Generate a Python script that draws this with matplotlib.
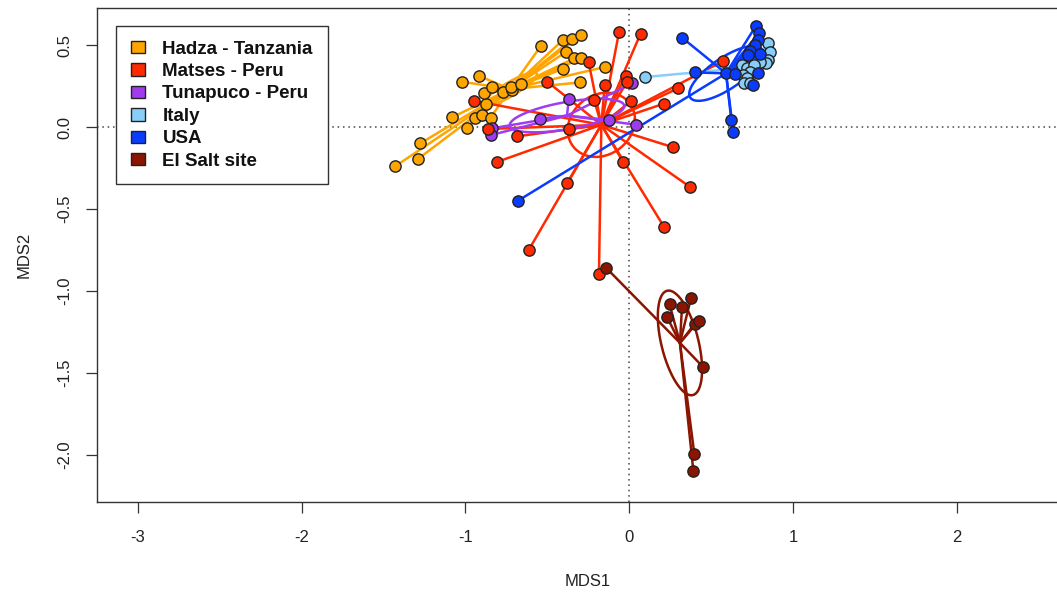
import numpy as np
import matplotlib
matplotlib.use("Agg")
import matplotlib.pyplot as plt
from matplotlib.patches import Patch

plt.rcParams['font.family'] = ['Liberation Sans', 'DejaVu Sans']

groups = ["Hadza - Tanzania", "Matses - Peru", "Tunapuco - Peru", "Italy", "USA", "El Salt site"]
colors = ["#FFA500", "#FF2A00", "#A03CF0", "#87CEFA", "#0A3CFF", "#8B1500"]

hadza_x = [-1.43, -1.29, -1.276, -1.08, -0.99, -0.944, -0.90, -0.847, -0.877, -0.889, -0.838,
           -0.771, -0.716, -0.72, -0.661, -1.02, -0.92, -0.54, -0.407, -0.35, -0.293, -0.385,
           -0.336, -0.293, -0.407, -0.15, -0.30]
hadza_y = [-0.24, -0.195, -0.10, 0.06, -0.004, 0.055, 0.075, 0.057, 0.14, 0.205, 0.242,
           0.211, 0.226, 0.246, 0.262, 0.276, 0.313, 0.494, 0.529, 0.535, 0.561, 0.459,
           0.419, 0.419, 0.354, 0.366, 0.272]

matses_x = [-0.063, 0.069, -0.248, -0.50, -0.022, -0.014, -0.15, -0.215, 0.012, -0.95, 0.297,
            0.21, -0.865, -0.686, -0.368, -0.808, -0.039, 0.27, -0.38, 0.214, 0.372, -0.615,
            -0.185, 0.572]
matses_y = [0.577, 0.569, 0.394, 0.276, 0.311, 0.276, 0.254, 0.165, 0.159, 0.16, 0.236,
            0.142, -0.012, -0.057, -0.012, -0.213, -0.211, -0.124, -0.343, -0.612, -0.366, -0.752,
            -0.894, 0.402]

tunapuco_x = [0.016, -0.369, -0.548, -0.122, 0.043, -0.838, -0.844]
tunapuco_y = [0.266, 0.171, 0.051, 0.043, 0.014, -0.008, -0.049]

italy_x = [0.85, 0.861, 0.85, 0.836, 0.80, 0.688, 0.718, 0.759, 0.739, 0.694, 0.718, 0.698, 0.739, 0.098]
italy_y = [0.51, 0.459, 0.408, 0.388, 0.398, 0.378, 0.362, 0.378, 0.337, 0.317, 0.297, 0.266, 0.266, 0.305]

usa_x = [0.325, 0.399, 0.588, 0.647, 0.623, 0.635, -0.682, 0.773, 0.79, 0.784, 0.77, 0.739,
         0.80, 0.728, 0.784, 0.753]
usa_y = [0.543, 0.333, 0.329, 0.323, 0.043, -0.03, -0.451, 0.616, 0.571, 0.53, 0.5, 0.465,
         0.443, 0.439, 0.327, 0.256]

elsalt_x = [-0.142, 0.246, 0.322, 0.377, 0.23, 0.399, 0.425, 0.45, 0.397, 0.391]
elsalt_y = [-0.858, -1.081, -1.096, -1.043, -1.157, -1.201, -1.181, -1.463, -1.992, -2.095]

data = [(hadza_x, hadza_y), (matses_x, matses_y), (tunapuco_x, tunapuco_y),
        (italy_x, italy_y), (usa_x, usa_y), (elsalt_x, elsalt_y)]

xticks = [-3, -2, -1, 0, 1, 2]
yticks = [-2.0, -1.5, -1.0, -0.5, 0.0, 0.5]

W, H = 1057, 594
fig = plt.figure(figsize=(W / 100, H / 100), dpi=100)
ax = fig.add_axes([97 / W, 92 / H, 981 / W, 494 / H])
ax.set_xlim(-3.25, 2.74)
ax.set_ylim(-2.287, 0.726)

ax.axhline(0, color="#444444", lw=1.1, ls=(0, (1, 2.5)), zorder=0)
ax.axvline(0, color="#444444", lw=1.1, ls=(0, (1, 2.5)), zorder=0)

CHI2_95_2DF = 5.991
t = np.linspace(0, 2 * np.pi, 200)
circle = np.vstack([np.cos(t), np.sin(t)])

for i, ((gx, gy), col) in enumerate(zip(data, colors)):
    X = np.column_stack([gx, gy])
    c = X.mean(axis=0)
    for px, py in X:
        ax.plot([c[0], px], [c[1], py], color=col, lw=1.8, zorder=2 + i * 0.1,
                solid_capstyle="round")
    cov = np.cov(X.T) / len(X)
    L = np.linalg.cholesky(cov)
    E = c[:, None] + np.sqrt(CHI2_95_2DF) * (L @ circle)
    ax.plot(E[0], E[1], color=col, lw=1.8, zorder=2 + i * 0.1)

point_order = [0, 2, 1, 3, 4, 5]
for k, i in enumerate(point_order):
    gx, gy = data[i]
    ax.scatter(gx, gy, s=66, facecolor=colors[i], edgecolor="#222222", linewidth=1.0,
               zorder=5 + k * 0.1)

for s in ax.spines.values():
    s.set_color("#333333")
    s.set_linewidth(1.0)

ax.set_xticks(xticks)
ax.set_xticklabels([f"{v:g}" for v in xticks])
ax.set_yticks(yticks)
ax.set_yticklabels([f"{v:.1f}" for v in yticks], rotation=90, va="center")
ax.tick_params(axis="both", direction="out", length=8, width=0.9, color="#333333",
               labelsize=12, labelcolor="#222222")
ax.tick_params(axis="x", pad=12)
ax.tick_params(axis="y", pad=10)

ax.set_xlabel("MDS1", fontsize=12, color="#222222", labelpad=21)
ax.set_ylabel("MDS2", fontsize=12, color="#222222", labelpad=18)

handles = [Patch(facecolor=c, edgecolor="#222222", linewidth=1.0) for c in colors]
leg = ax.legend(handles, groups, loc="upper left", bbox_to_anchor=(19 / 981, 1 - 18 / 494),
                frameon=True, fancybox=False, edgecolor="#333333", framealpha=1,
                prop={"weight": "bold", "size": 13.5}, handlelength=0.75, handleheight=0.65,
                handletextpad=0.95, labelspacing=0.29, borderpad=0.78, borderaxespad=0)
leg.get_frame().set_linewidth(1.0)
for txt in leg.get_texts():
    txt.set_color("#111111")

fig.savefig("out.png", dpi=100)
